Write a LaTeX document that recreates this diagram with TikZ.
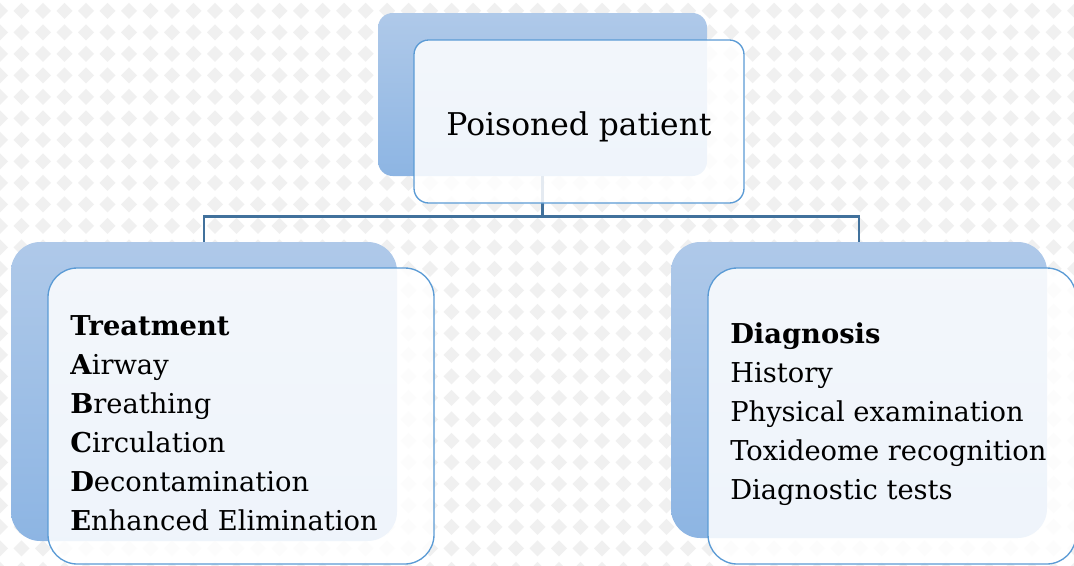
\documentclass[tikz,border=0pt]{standalone}
\usepackage{fontspec}
\setmainfont{DejaVu Serif}
\usetikzlibrary{fit}

\definecolor{backtop}{RGB}{175,201,233}
\definecolor{backbot}{RGB}{141,181,227}
\definecolor{frontline}{RGB}{91,155,213}
\definecolor{connline}{RGB}{65,113,156}
\definecolor{tilegray}{RGB}{240,240,240}

\tikzset{
  backbox/.style={inner sep=0pt, draw=none, top color=backtop, bottom color=backbot},
  frontbox/.style={inner sep=0pt, draw=frontline, line width=1pt, fill=white, fill opacity=0.86},
  conn/.style={draw=connline, line width=2pt},
  listtext/.style={anchor=base west, align=left, inner sep=0pt, font=\fontsize{20.5}{29.2}\selectfont},
}

\begin{document}
\begin{tikzpicture}[x=0.75pt,y=0.75pt,yscale=-1,xscale=1]
\useasboundingbox (0,0) rectangle (1074,565);

%Background tiles
\fill[white] (0,0) rectangle (1074,565);
\foreach \i in {0,...,50}{
  \foreach \j in {0,...,26}{
    \fill[tilegray] (21.5*\i,10.75+21.5*\j) ++(-8,0) -- ++(8,-8) -- ++(8,8) -- ++(-8,8) -- cycle;
  }
}

%Back boxes
\node[backbox, rounded corners=11pt, fit={(378,13) (707,176)}] (topback) {};
\node[backbox, rounded corners=22pt, fit={(11,242) (397,541)}] (treatback) {};
\node[backbox, rounded corners=22pt, fit={(671,242) (1047,538)}] (diagback) {};

%Connectors
\draw[conn] (topback.south) -- ++(0,40) -| (treatback.north);
\draw[conn] (topback.south) -- ++(0,40) -| (diagback.north);

%Front boxes
\node[frontbox, rounded corners=11pt, fit={(414,40) (744,203)}] (topfront) {};
\node[frontbox, rounded corners=22pt, fit={(48,268) (434,564)}] (treatfront) {};
\node[frontbox, rounded corners=22pt, fit={(708,268) (1076,564)}] (diagfront) {};

%Texts (base = last line)
\node[anchor=base, inner sep=0pt, font=\fontsize{23.5}{28}\selectfont] (toptext) at (579,135) {Poisoned patient};
\node[listtext] (treattext) at (70,530) {\textbf{Treatment}\\
  \textbf{A}irway\\
  \textbf{B}reathing\\
  \textbf{C}irculation\\
  \textbf{D}econtamination\\
  \textbf{E}nhanced Elimination};
\node[listtext] (diagtext) at (730,499) {\textbf{Diagnosis}\\
  History\\
  Physical examination\\
  Toxideome recognition\\
  Diagnostic tests};

\end{tikzpicture}
\end{document}
